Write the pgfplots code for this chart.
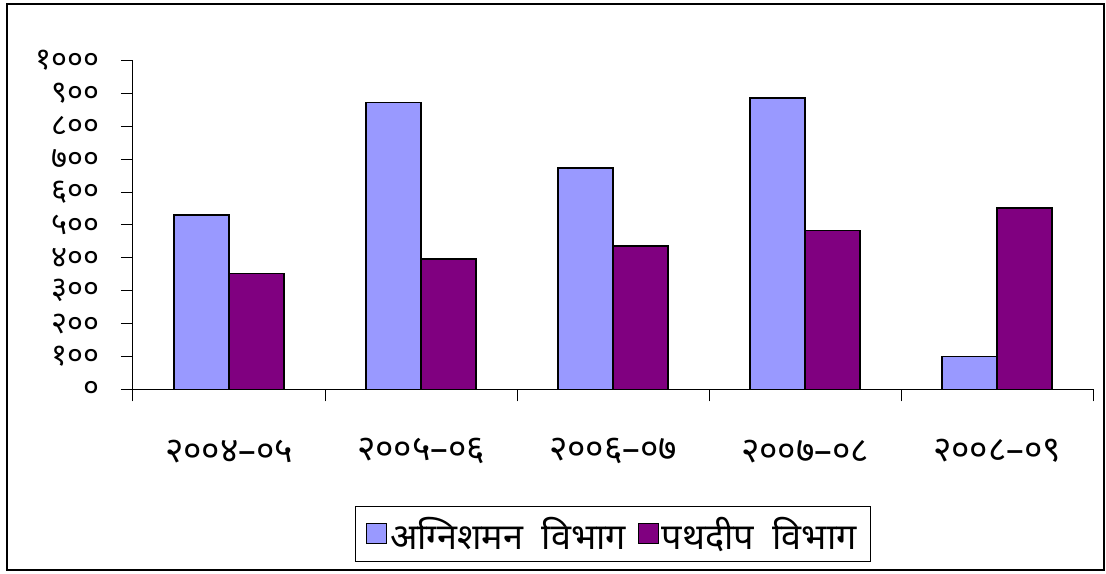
\documentclass[border=0pt]{standalone}
\usepackage{fontspec}
\usepackage{pgfplots}
\pgfplotsset{compat=1.18}
\setmainfont{Liberation Sans}
\newfontfamily\deva[Script=Devanagari]{Noto Sans}
\definecolor{cblue}{HTML}{9999FF}
\definecolor{cpurple}{HTML}{800080}
\begin{document}
\begin{tikzpicture}
\begin{axis}[
  name=ax, scale only axis, width=720pt, height=246.45pt,
  xmin=-0.5, xmax=4.5, ymin=0, ymax=1000,
  axis x line=bottom, axis y line=left,
  axis line style={-, line width=0.75pt, black},
  tick align=outside, major tick length=9pt,
  tick style={black, line width=0.75pt},
  xtick={-0.5,0.5,...,4.5}, xticklabels={},
  extra x ticks={0,1,2,3,4},
  extra x tick labels={२००४–०५,२००५–०६,२००६–०७,२००७–०८,२००८–०९},
  extra x tick style={tick style={draw=none}, xticklabel style={font=\deva\bfseries\fontsize{26.5}{30}\selectfont, anchor=center, yshift=-37.5pt}},
  ytick={0,100,...,1000},
  yticklabels={०,१००,२००,३००,४००,५००,६००,७००,८००,९००,१०००},
  yticklabel style={font=\deva\bfseries\fontsize{23}{26}\selectfont, anchor=east, xshift=-13pt},
  ybar, bar width=0.2865,
  legend style={at={(0.5,-0.4404)}, anchor=center, draw=black, line width=0.75pt,
    font=\deva\fontsize{27}{31}\selectfont, legend columns=2,
    inner xsep=8pt, inner ysep=6pt,
    /tikz/every even column/.append style={column sep=7pt}},
  legend image code/.code={\draw[#1, line width=0.75pt] (0pt,-7.5pt) rectangle (15pt,7.5pt);},
]
\addplot[fill=cblue, draw=black, line width=1.1pt, bar shift=-0.1433] coordinates {(0,530) (1,872) (2,674) (3,886) (4,99)};
\addplot[fill=cpurple, draw=black, line width=1.1pt, bar shift=0.1433] coordinates {(0,352) (1,396) (2,436) (3,483) (4,551)};
\legend{अग्निशमन\ \ विभाग, पथदीप\ \ विभाग}
\end{axis}
\draw[line width=1.5pt] ([xshift=-94.5pt,yshift=-135.5pt]ax.south west) rectangle ([xshift=8.25pt,yshift=42.5pt]ax.north east);
\useasboundingbox ([xshift=-99.75pt,yshift=-138.5pt]ax.south west) rectangle ([xshift=9.75pt,yshift=45.5pt]ax.north east);
\end{tikzpicture}
\end{document}
